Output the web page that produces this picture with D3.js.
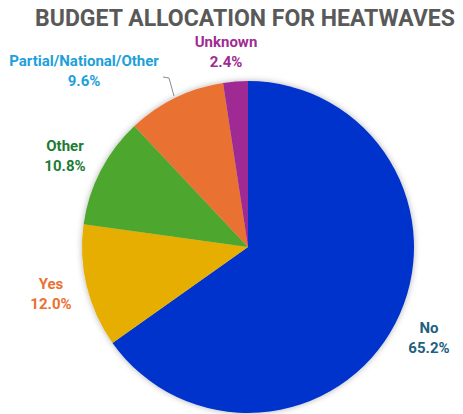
<!DOCTYPE html>
<html>
<head>
<meta charset="utf-8">
<style>
  body { margin: 0; background: #fff; }
  svg { display: block; font-family: Roboto, "Liberation Sans", sans-serif; }
</style>
</head>
<body>
<svg id="chart" width="463" height="414"></svg>
<script src="https://cdn.jsdelivr.net/npm/d3@7"></script>
<script>
  // data
  var categories = ["No", "Yes", "Other", "Partial/National/Other", "Unknown"]
  var values = [65.2, 12.0, 10.8, 9.6, 2.4]
  var sliceColors = ["#0033cc", "#e6ae00", "#4ea72e", "#e97132", "#a02b93"]
  var labelColors = ["#1f5f80", "#e97132", "#1e7b34", "#1ea0da", "#a02b93"]
  // label anchor spots (centre of the two-line label)
  var labelPos = [[429, 343], [51, 299], [65, 161], [84, 76], [226, 57]]

  var data = categories.map(function (c, i) {
    return { name: c, value: values[i], color: sliceColors[i], textColor: labelColors[i], pos: labelPos[i] }
  })

  var svg = d3.select("#chart")
  var cx = 248, cy = 247, r = 166

  // soft shadow behind the pie
  var defs = svg.append("defs")
  var f = defs.append("filter").attr("id", "shadow")
    .attr("x", "-10%").attr("y", "-10%").attr("width", "120%").attr("height", "120%")
  f.append("feDropShadow").attr("dx", 0).attr("dy", 0)
    .attr("stdDeviation", 3).attr("flood-color", "#000").attr("flood-opacity", 0.3)

  // title
  svg.append("text")
    .attr("x", 245).attr("y", 26)
    .attr("text-anchor", "middle")
    .attr("font-size", 23).attr("font-weight", "bold")
    .attr("fill", "#595959")
    .attr("textLength", 420).attr("lengthAdjust", "spacingAndGlyphs")
    .text("BUDGET ALLOCATION FOR HEATWAVES")

  var pie = d3.pie().sort(null).value(function (d) { return d.value })
  var arc = d3.arc().innerRadius(0).outerRadius(r)

  var g = svg.append("g").attr("transform", "translate(" + cx + "," + cy + ")")
  g.append("g").attr("filter", "url(#shadow)")
    .selectAll("path")
    .data(pie(data))
    .enter()
    .append("path")
    .attr("d", arc)
    .attr("fill", function (d) { return d.data.color })

  // leader line for Partial/National/Other
  svg.append("polyline")
    .attr("points", "163,77 169,78 174,96")
    .attr("fill", "none").attr("stroke", "#8c8c8c").attr("stroke-width", 1)

  // labels
  var lab = svg.selectAll(".lab")
    .data(data)
    .enter()
    .append("text")
    .attr("class", "lab")
    .attr("text-anchor", "middle")
    .attr("font-size", 15).attr("font-weight", "bold")
    .attr("fill", function (d) { return d.textColor })
  lab.append("tspan")
    .attr("x", function (d) { return d.pos[0] })
    .attr("y", function (d) { return d.pos[1] - 10 })
    .text(function (d) { return d.name })
  lab.append("tspan")
    .attr("x", function (d) { return d.pos[0] })
    .attr("y", function (d) { return d.pos[1] + 10 })
    .text(function (d) { return d.value.toFixed(1) + "%" })
</script>
</body>
</html>
